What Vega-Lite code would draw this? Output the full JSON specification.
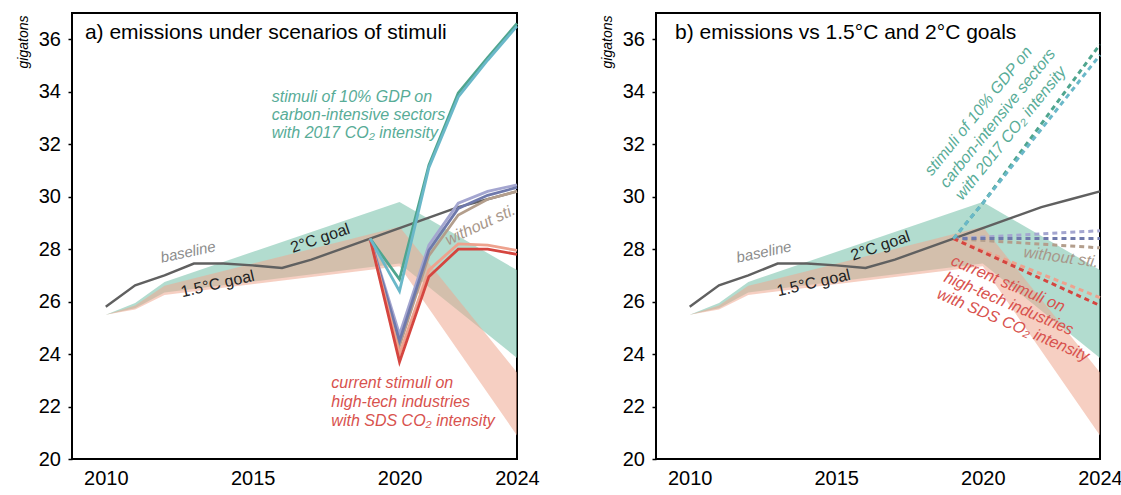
{
  "$schema": "https://vega.github.io/schema/vega-lite/v6.json",
  "padding": {"left": 14, "top": 12, "right": 5, "bottom": 5},
  "spacing": 57,
  "datasets": {
    "bands": [
      {"year": 2010, "g_lo": 25.5, "g_hi": 25.5, "s_lo": 25.5, "s_hi": 25.5},
      {"year": 2011, "g_lo": 25.75, "g_hi": 25.95, "s_lo": 25.7, "s_hi": 25.85},
      {"year": 2012, "g_lo": 26.35, "g_hi": 26.75, "s_lo": 26.25, "s_hi": 26.6},
      {"year": 2020, "g_lo": 27.45, "g_hi": 29.8, "s_lo": 27.35, "s_hi": 28.85},
      {"year": 2024, "g_lo": 23.85, "g_hi": 27.2, "s_lo": 20.9, "s_hi": 23.3}
    ],
    "baseline": [
      {"year": 2010, "value": 25.8}, {"year": 2011, "value": 26.62}, {"year": 2012, "value": 27.0},
      {"year": 2013, "value": 27.45}, {"year": 2014, "value": 27.45}, {"year": 2015, "value": 27.38},
      {"year": 2016, "value": 27.28}, {"year": 2017, "value": 27.6}, {"year": 2018, "value": 28.0},
      {"year": 2019, "value": 28.4}, {"year": 2020, "value": 28.8}, {"year": 2021, "value": 29.2},
      {"year": 2022, "value": 29.6}, {"year": 2023, "value": 29.9}, {"year": 2024, "value": 30.2}
    ],
    "stimA": [
      {"series": "tan", "year": 2019, "value": 28.4}, {"series": "tan", "year": 2020, "value": 24.3}, {"series": "tan", "year": 2021, "value": 27.75}, {"series": "tan", "year": 2022, "value": 29.3}, {"series": "tan", "year": 2023, "value": 29.9}, {"series": "tan", "year": 2024, "value": 30.2},
      {"series": "purpleL", "year": 2019, "value": 28.4}, {"series": "purpleL", "year": 2020, "value": 24.75}, {"series": "purpleL", "year": 2021, "value": 28.15}, {"series": "purpleL", "year": 2022, "value": 29.75}, {"series": "purpleL", "year": 2023, "value": 30.2}, {"series": "purpleL", "year": 2024, "value": 30.45},
      {"series": "purpleD", "year": 2019, "value": 28.4}, {"series": "purpleD", "year": 2020, "value": 24.5}, {"series": "purpleD", "year": 2021, "value": 27.95}, {"series": "purpleD", "year": 2022, "value": 29.55}, {"series": "purpleD", "year": 2023, "value": 30.05}, {"series": "purpleD", "year": 2024, "value": 30.35},
      {"series": "salmon", "year": 2019, "value": 28.4}, {"series": "salmon", "year": 2020, "value": 24.0}, {"series": "salmon", "year": 2021, "value": 27.2}, {"series": "salmon", "year": 2022, "value": 28.2}, {"series": "salmon", "year": 2023, "value": 28.15}, {"series": "salmon", "year": 2024, "value": 27.95},
      {"series": "red", "year": 2019, "value": 28.4}, {"series": "red", "year": 2020, "value": 23.7}, {"series": "red", "year": 2021, "value": 26.95}, {"series": "red", "year": 2022, "value": 28.0}, {"series": "red", "year": 2023, "value": 28.0}, {"series": "red", "year": 2024, "value": 27.8},
      {"series": "green", "year": 2019, "value": 28.4}, {"series": "green", "year": 2020, "value": 26.85}, {"series": "green", "year": 2021, "value": 31.2}, {"series": "green", "year": 2022, "value": 33.95}, {"series": "green", "year": 2023, "value": 35.3}, {"series": "green", "year": 2024, "value": 36.6},
      {"series": "cyan", "year": 2019, "value": 28.4}, {"series": "cyan", "year": 2020, "value": 26.4}, {"series": "cyan", "year": 2021, "value": 31.1}, {"series": "cyan", "year": 2022, "value": 33.8}, {"series": "cyan", "year": 2023, "value": 35.2}, {"series": "cyan", "year": 2024, "value": 36.5}
    ],
    "stimB": [
      {"series": "tan", "year": 2019, "value": 28.4}, {"series": "tan", "year": 2024, "value": 28.05},
      {"series": "purpleL", "year": 2019, "value": 28.4}, {"series": "purpleL", "year": 2024, "value": 28.7},
      {"series": "purpleD", "year": 2019, "value": 28.4}, {"series": "purpleD", "year": 2024, "value": 28.4},
      {"series": "salmon", "year": 2019, "value": 28.4}, {"series": "salmon", "year": 2024, "value": 26.15},
      {"series": "red", "year": 2019, "value": 28.4}, {"series": "red", "year": 2024, "value": 25.85},
      {"series": "green", "year": 2019, "value": 28.4}, {"series": "green", "year": 2020, "value": 29.75}, {"series": "green", "year": 2024, "value": 35.8},
      {"series": "cyan", "year": 2019, "value": 28.4}, {"series": "cyan", "year": 2020, "value": 29.75}, {"series": "cyan", "year": 2024, "value": 35.4}
    ]
  },
  "hconcat": [
    {
      "width": 445,
      "height": 446,
      "layer": [
        {
          "data": {"name": "bands"},
          "mark": {"type": "area", "color": "#7fc4af", "opacity": 0.6},
          "encoding": {
            "x": {"field": "year", "type": "quantitative", "scale": {"domain": [2008.85, 2024], "nice": false, "zero": false},
                  "axis": {"values": [2010, 2015, 2020, 2024], "format": "d", "ticks": false, "labelPadding": 9, "labelFlush": false, "labelOverlap": false, "title": null}},
            "y": {"field": "g_lo", "type": "quantitative", "scale": {"domain": [20, 37], "nice": false, "zero": false},
                  "axis": {"values": [20, 22, 24, 26, 28, 30, 32, 34, 36], "tickSize": 4, "labelPadding": 7.5, "labelFlush": false, "title": "gigatons", "titleFontSize": 14, "titleFontStyle": "italic", "titleFontWeight": "normal", "titleX": -49, "titleY": 2, "titleAlign": "right", "titleBaseline": "middle", "titleAngle": -90}},
            "y2": {"field": "g_hi"}
          }
        },
        {
          "data": {"name": "bands"},
          "mark": {"type": "area", "color": "#eea88f", "opacity": 0.55},
          "encoding": {"x": {"field": "year", "type": "quantitative"}, "y": {"field": "s_lo", "type": "quantitative"}, "y2": {"field": "s_hi"}}
        },
        {
          "data": {"name": "baseline"},
          "mark": {"type": "line", "color": "#606060", "strokeWidth": 2.4},
          "encoding": {"x": {"field": "year", "type": "quantitative"}, "y": {"field": "value", "type": "quantitative"}}
        },
        {
          "data": {"name": "stimA"},
          "mark": {"type": "line", "strokeWidth": 2.8},
          "encoding": {
            "x": {"field": "year", "type": "quantitative"},
            "y": {"field": "value", "type": "quantitative"},
            "color": {"field": "series", "type": "nominal", "legend": null,
                      "scale": {"domain": ["tan", "purpleL", "purpleD", "salmon", "red", "green", "cyan"], "range": ["#b39e8c", "#a4a6d0", "#6f79ab", "#eea28e", "#d5453f", "#4fa58e", "#6ab8c9"]}}
          }
        },
        {
          "data": {"values": [{"year": 2009.29, "value": 36.0, "label": "a) emissions under scenarios of stimuli"}]},
          "mark": {"type": "text", "fontSize": 21, "align": "left", "baseline": "alphabetic", "color": "black"},
          "encoding": {"x": {"field": "year", "type": "quantitative"}, "y": {"field": "value", "type": "quantitative"}, "text": {"field": "label"}}
        },
        {
          "data": {"values": [{"year": 2012.8, "value": 27.89, "label": "baseline"}]},
          "mark": {"type": "text", "fontSize": 15, "fontStyle": "italic", "angle": -12, "align": "center", "baseline": "middle", "color": "#8c8c8c"},
          "encoding": {"x": {"field": "year", "type": "quantitative"}, "y": {"field": "value", "type": "quantitative"}, "text": {"field": "label"}}
        },
        {
          "data": {"values": [{"year": 2017.3, "value": 28.41, "label": "2°C goal"}]},
          "mark": {"type": "text", "fontSize": 16, "angle": -19, "align": "center", "baseline": "middle", "color": "#222222"},
          "encoding": {"x": {"field": "year", "type": "quantitative"}, "y": {"field": "value", "type": "quantitative"}, "text": {"field": "label"}}
        },
        {
          "data": {"values": [{"year": 2013.81, "value": 26.67, "label": "1.5°C goal"}]},
          "mark": {"type": "text", "fontSize": 16, "angle": -13, "align": "center", "baseline": "middle", "color": "#222222"},
          "encoding": {"x": {"field": "year", "type": "quantitative"}, "y": {"field": "value", "type": "quantitative"}, "text": {"field": "label"}}
        },
        {
          "data": {"values": [{"year": 2022.75, "value": 28.92, "label": "without sti."}]},
          "mark": {"type": "text", "fontSize": 16, "fontStyle": "italic", "angle": -25, "align": "center", "baseline": "middle", "color": "#a8978a", "clip": true},
          "encoding": {"x": {"field": "year", "type": "quantitative"}, "y": {"field": "value", "type": "quantitative"}, "text": {"field": "label"}}
        },
        {
          "data": {"values": [{"year": 2015.65, "value": 33.81, "label": "stimuli of 10% GDP on\ncarbon-intensive sectors\nwith 2017 CO₂ intensity"}]},
          "mark": {"type": "text", "fontSize": 16, "fontStyle": "italic", "align": "left", "baseline": "middle", "lineBreak": "\n", "lineHeight": 18.3, "color": "#58ac97"},
          "encoding": {"x": {"field": "year", "type": "quantitative"}, "y": {"field": "value", "type": "quantitative"}, "text": {"field": "label"}}
        },
        {
          "data": {"values": [{"year": 2017.68, "value": 22.885, "label": "current stimuli on\nhigh-tech industries\nwith SDS CO₂ intensity"}]},
          "mark": {"type": "text", "fontSize": 16, "fontStyle": "italic", "align": "left", "baseline": "middle", "lineBreak": "\n", "lineHeight": 18.7, "color": "#d8524e"},
          "encoding": {"x": {"field": "year", "type": "quantitative"}, "y": {"field": "value", "type": "quantitative"}, "text": {"field": "label"}}
        }
      ]
    },
    {
      "width": 444,
      "height": 446,
      "layer": [
        {
          "data": {"name": "bands"},
          "mark": {"type": "area", "color": "#7fc4af", "opacity": 0.6},
          "encoding": {
            "x": {"field": "year", "type": "quantitative", "scale": {"domain": [2008.85, 2024], "nice": false, "zero": false},
                  "axis": {"values": [2010, 2015, 2020, 2024], "format": "d", "ticks": false, "labelPadding": 9, "labelFlush": false, "labelOverlap": false, "title": null}},
            "y": {"field": "g_lo", "type": "quantitative", "scale": {"domain": [20, 37], "nice": false, "zero": false},
                  "axis": {"values": [20, 22, 24, 26, 28, 30, 32, 34, 36], "tickSize": 4, "labelPadding": 7.5, "labelFlush": false, "title": "gigatons", "titleFontSize": 14, "titleFontStyle": "italic", "titleFontWeight": "normal", "titleX": -49, "titleY": 2, "titleAlign": "right", "titleBaseline": "middle", "titleAngle": -90}},
            "y2": {"field": "g_hi"}
          }
        },
        {
          "data": {"name": "bands"},
          "mark": {"type": "area", "color": "#eea88f", "opacity": 0.55},
          "encoding": {"x": {"field": "year", "type": "quantitative"}, "y": {"field": "s_lo", "type": "quantitative"}, "y2": {"field": "s_hi"}}
        },
        {
          "data": {"name": "baseline"},
          "mark": {"type": "line", "color": "#606060", "strokeWidth": 2.4},
          "encoding": {"x": {"field": "year", "type": "quantitative"}, "y": {"field": "value", "type": "quantitative"}}
        },
        {
          "data": {"name": "stimB"},
          "mark": {"type": "line", "strokeWidth": 3, "strokeDash": [5, 4]},
          "encoding": {
            "x": {"field": "year", "type": "quantitative"},
            "y": {"field": "value", "type": "quantitative"},
            "color": {"field": "series", "type": "nominal", "legend": null,
                      "scale": {"domain": ["tan", "purpleL", "purpleD", "salmon", "red", "green", "cyan"], "range": ["#b39e8c", "#a4a6d0", "#6f79ab", "#eea28e", "#d5453f", "#4fa58e", "#6ab8c9"]}}
          }
        },
        {
          "data": {"values": [{"year": 2009.5, "value": 36.0, "label": "b) emissions vs 1.5°C and 2°C goals"}]},
          "mark": {"type": "text", "fontSize": 21, "align": "left", "baseline": "alphabetic", "color": "black"},
          "encoding": {"x": {"field": "year", "type": "quantitative"}, "y": {"field": "value", "type": "quantitative"}, "text": {"field": "label"}}
        },
        {
          "data": {"values": [{"year": 2012.53, "value": 27.89, "label": "baseline"}]},
          "mark": {"type": "text", "fontSize": 15, "fontStyle": "italic", "angle": -12, "align": "center", "baseline": "middle", "color": "#8c8c8c"},
          "encoding": {"x": {"field": "year", "type": "quantitative"}, "y": {"field": "value", "type": "quantitative"}, "text": {"field": "label"}}
        },
        {
          "data": {"values": [{"year": 2016.51, "value": 28.12, "label": "2°C goal"}]},
          "mark": {"type": "text", "fontSize": 16, "angle": -19, "align": "center", "baseline": "middle", "color": "#222222"},
          "encoding": {"x": {"field": "year", "type": "quantitative"}, "y": {"field": "value", "type": "quantitative"}, "text": {"field": "label"}}
        },
        {
          "data": {"values": [{"year": 2014.23, "value": 26.71, "label": "1.5°C goal"}]},
          "mark": {"type": "text", "fontSize": 16, "angle": -13, "align": "center", "baseline": "middle", "color": "#222222"},
          "encoding": {"x": {"field": "year", "type": "quantitative"}, "y": {"field": "value", "type": "quantitative"}, "text": {"field": "label"}}
        },
        {
          "data": {"values": [{"year": 2022.67, "value": 27.69, "label": "without sti."}]},
          "mark": {"type": "text", "fontSize": 16, "fontStyle": "italic", "angle": 8, "align": "center", "baseline": "middle", "color": "#a8978a", "clip": true},
          "encoding": {"x": {"field": "year", "type": "quantitative"}, "y": {"field": "value", "type": "quantitative"}, "text": {"field": "label"}}
        },
        {
          "data": {"values": [{"year": 2018.13, "value": 30.89, "label": "stimuli of 10% GDP on\ncarbon-intensive sectors\nwith 2017 CO₂ intensity"}]},
          "mark": {"type": "text", "fontSize": 16, "fontStyle": "italic", "angle": -51, "align": "left", "baseline": "middle", "lineBreak": "\n", "lineHeight": 19.5, "color": "#58ac97"},
          "encoding": {"x": {"field": "year", "type": "quantitative"}, "y": {"field": "value", "type": "quantitative"}, "text": {"field": "label"}}
        },
        {
          "data": {"values": [{"year": 2018.95, "value": 27.585, "label": "current stimuli on\nhigh-tech industries\nwith SDS CO₂ intensity"}]},
          "mark": {"type": "text", "fontSize": 16, "fontStyle": "italic", "angle": 23, "align": "left", "baseline": "middle", "lineBreak": "\n", "lineHeight": 18, "color": "#d8524e"},
          "encoding": {"x": {"field": "year", "type": "quantitative"}, "y": {"field": "value", "type": "quantitative"}, "text": {"field": "label"}}
        }
      ]
    }
  ],
  "config": {
    "font": "Liberation Sans",
    "view": {"stroke": "black", "strokeWidth": 2},
    "axis": {"labelFont": "Liberation Sans", "labelFontSize": 20, "labelColor": "black", "domain": false, "grid": false, "tickColor": "black", "tickWidth": 1.5, "titleFont": "Liberation Sans", "titleColor": "black"},
    "text": {"font": "Liberation Sans"}
  }
}
